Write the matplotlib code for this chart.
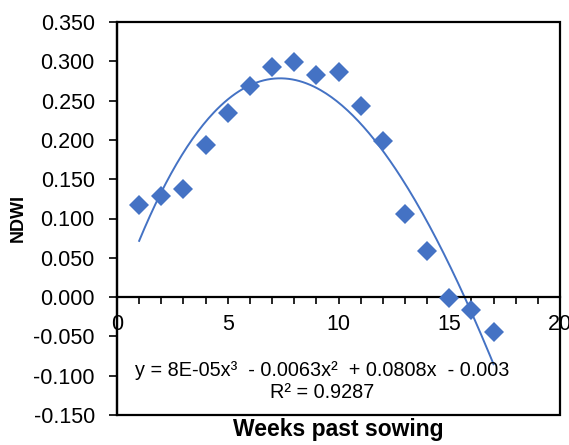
import numpy as np
import matplotlib
matplotlib.use("Agg")
import matplotlib.pyplot as plt
from matplotlib.patches import Rectangle
from matplotlib.ticker import MultipleLocator, FormatStrFormatter

weeks = [1, 2, 3, 4, 5, 6, 7, 8, 9, 10, 11, 12, 13, 14, 15, 16, 17]
ndwi = [0.117, 0.128, 0.137, 0.194, 0.234, 0.269, 0.293, 0.299, 0.283, 0.286,
        0.243, 0.198, 0.106, 0.059, -0.001, -0.016, -0.044]
equation_text = "y = 8E-05x\u00b3  - 0.0063x\u00b2  + 0.0808x  - 0.003"
r2_text = "R\u00b2 = 0.9287"

plt.rcParams['font.family'] = ['Liberation Sans', 'DejaVu Sans']
color = '#4472C4'

fig = plt.figure(figsize=(5.69, 4.45), dpi=100)
ax = fig.add_axes([117/569, 1-415/445, (560-117)/569, (415-22)/445])

ax.plot(weeks, ndwi, linestyle='none', marker='D', markersize=10,
        color=color, markeredgewidth=0, zorder=3)

coef = np.polyfit(weeks, ndwi, 3)
xs = np.linspace(min(weeks), max(weeks), 200)
ax.plot(xs, np.polyval(coef, xs), color=color, linewidth=1.4, zorder=2)

ax.set_xlim(0, 20)
ax.set_ylim(-0.15, 0.35)
ax.xaxis.set_major_locator(MultipleLocator(5))
ax.xaxis.set_minor_locator(MultipleLocator(1))
ax.yaxis.set_major_locator(MultipleLocator(0.05))
ax.yaxis.set_major_formatter(FormatStrFormatter('%.3f'))

ax.spines['bottom'].set_position(('data', 0))
for s in ['top', 'right', 'left', 'bottom']:
    ax.spines[s].set_linewidth(1.6)
ax.spines['top'].set_visible(False)
ax.spines['right'].set_visible(False)
ax.add_patch(Rectangle((0, 0), 1, 1, transform=ax.transAxes, fill=False,
                       edgecolor='black', linewidth=1.6, clip_on=False, zorder=5))

ax.tick_params(axis='both', which='both', direction='out', labelsize=15.5,
               colors='black', width=1.2)
ax.tick_params(axis='y', which='major', length=6, pad=10)
ax.tick_params(axis='x', which='major', length=5, pad=7)
ax.tick_params(axis='x', which='minor', length=5)

ax.set_ylabel('NDWI', fontsize=13, fontweight='bold')
ax.yaxis.set_label_coords(-0.224, 0.5)
ax.set_xlabel('Weeks past sowing', fontsize=16.5, fontweight='bold')
ax.xaxis.set_label_coords(0.5, -0.036)
ax.xaxis.label.set_va('center')
ax.yaxis.label.set_va('center')

ax.text(0.463, 0.112, equation_text, transform=ax.transAxes, ha='center',
        va='center', fontsize=14.3)
ax.text(0.463, 0.056, r2_text, transform=ax.transAxes, ha='center',
        va='center', fontsize=14.3)

fig.savefig('out.png', dpi=100)
